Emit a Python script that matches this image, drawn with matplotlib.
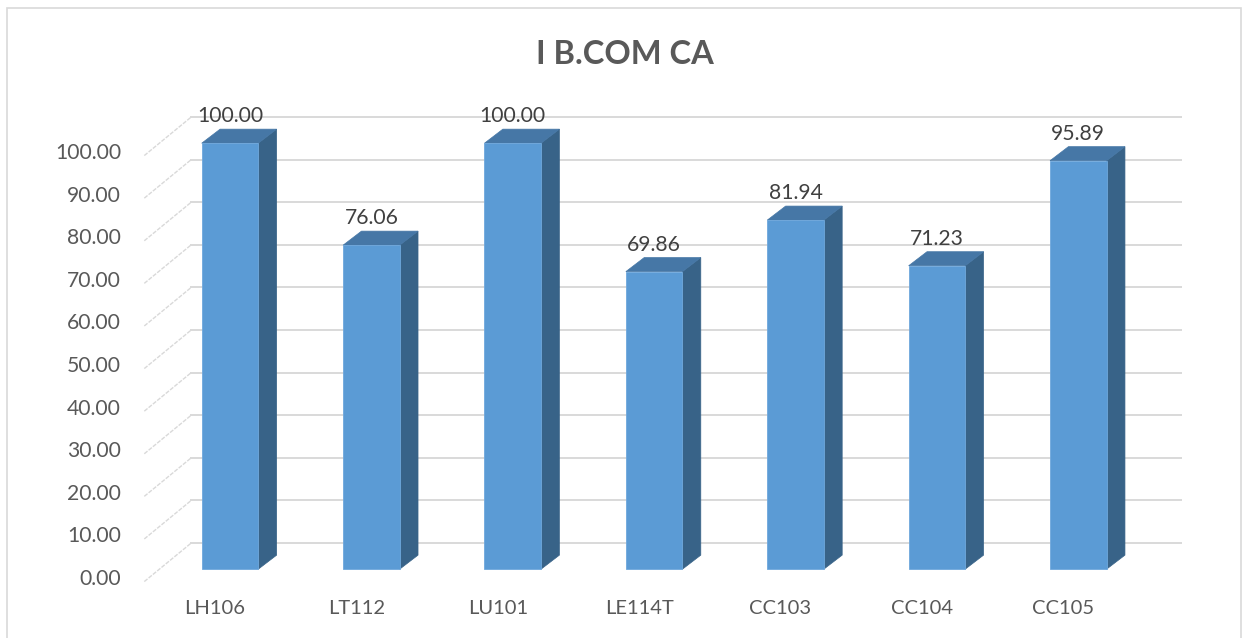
import matplotlib
matplotlib.use("Agg")
import matplotlib.pyplot as plt
from matplotlib.patches import Rectangle, Polygon

plt.rcParams['font.family'] = ['Lato', 'DejaVu Sans']

# --- data ---
TITLE    = "I B.COM CA"
SUBJECTS = ["LH106", "LT112", "LU101", "LE114T", "CC103", "CC104", "CC105"]
PASS_PCT = [100.00, 76.06, 100.00, 69.86, 81.94, 71.23, 95.89]
Y_TICKS  = [0, 10, 20, 30, 40, 50, 60, 70, 80, 90, 100]

# --- 3d look (offsets in data units: x = categories, y = percent) ---
WALL_DX, WALL_DY = 0.332, 8.45    # back wall relative to front floor edge
BAR_DX,  BAR_DY  = 0.106, 2.3     # bar front face relative to front edge
DEPTH_DX, DEPTH_DY = 0.13, 3.3    # bar depth
BAR_W    = 0.40

FRONT = "#5B9BD5"
TOP   = "#4677A6"
SIDE  = "#386388"
GRID  = "#D9D9D9"
TXT   = "#595959"

W, H = 1244, 638
fig = plt.figure(figsize=(W / 100, H / 100), dpi=100)
ax = fig.add_axes([144.3 / W, (H - 579) / H, (1134 - 144.3) / W, (579 - 153) / H])
ax.set_xlim(-0.5, len(SUBJECTS) - 0.5)
ax.set_ylim(0, 100)
ax.axis("off")

x_left, x_right = -0.5, len(SUBJECTS) - 0.5

# back wall gridlines + left wall diagonals
for t in Y_TICKS:
    ax.plot([x_left + WALL_DX, x_right + WALL_DX], [t + WALL_DY, t + WALL_DY],
            color=GRID, lw=1.4, zorder=1, clip_on=False)
    ax.plot([x_left, x_left + WALL_DX], [t - 0.6, t + WALL_DY],
            color=GRID, lw=1.0, ls=(0, (3, 1)), zorder=1, clip_on=False)
    ax.text(x_left - 0.165, t, f"{t:.2f}", ha="right", va="center",
            fontsize=15.2, color=TXT, clip_on=False)

# bars
for i, (name, v) in enumerate(zip(SUBJECTS, PASS_PCT)):
    x0 = i + BAR_DX - BAR_W / 2
    x1 = x0 + BAR_W
    yb = BAR_DY
    yt = v + BAR_DY
    ax.add_patch(Polygon([(x1, yb), (x1 + DEPTH_DX, yb + DEPTH_DY),
                          (x1 + DEPTH_DX, yt + DEPTH_DY), (x1, yt)],
                         closed=True, fc=SIDE, ec=SIDE, lw=0.5, zorder=3, clip_on=False))
    ax.add_patch(Polygon([(x0, yt), (x0 + DEPTH_DX, yt + DEPTH_DY),
                          (x1 + DEPTH_DX, yt + DEPTH_DY), (x1, yt)],
                         closed=True, fc=TOP, ec=TOP, lw=0.5, zorder=3, clip_on=False))
    ax.add_patch(Rectangle((x0, yb), BAR_W, v, fc=FRONT, ec="#6FA8DC",
                           lw=0.6, zorder=4, clip_on=False))
    ax.annotate(f"{v:.2f}", (i + BAR_DX, yt), xytext=(0, 19.5),
                textcoords="offset points", ha="center", va="center",
                fontsize=15.2, color="#404040", zorder=5, annotation_clip=False)
    ax.annotate(name, (i, 0), xytext=(0, -21.5), textcoords="offset points",
                ha="center", va="center", fontsize=14.5, color=TXT,
                annotation_clip=False)

fig.text(625 / W, 1 - 55 / H, TITLE, ha="center", va="center",
         fontsize=23.5, fontweight="bold", color=TXT)

# chart area border
fig.patches.append(Rectangle((7 / W, -0.01), (1241 - 7) / W, 1.01 - 8 / H,
                             transform=fig.transFigure, fill=False,
                             ec=GRID, lw=1.2))

fig.savefig("out.png", dpi=100)
